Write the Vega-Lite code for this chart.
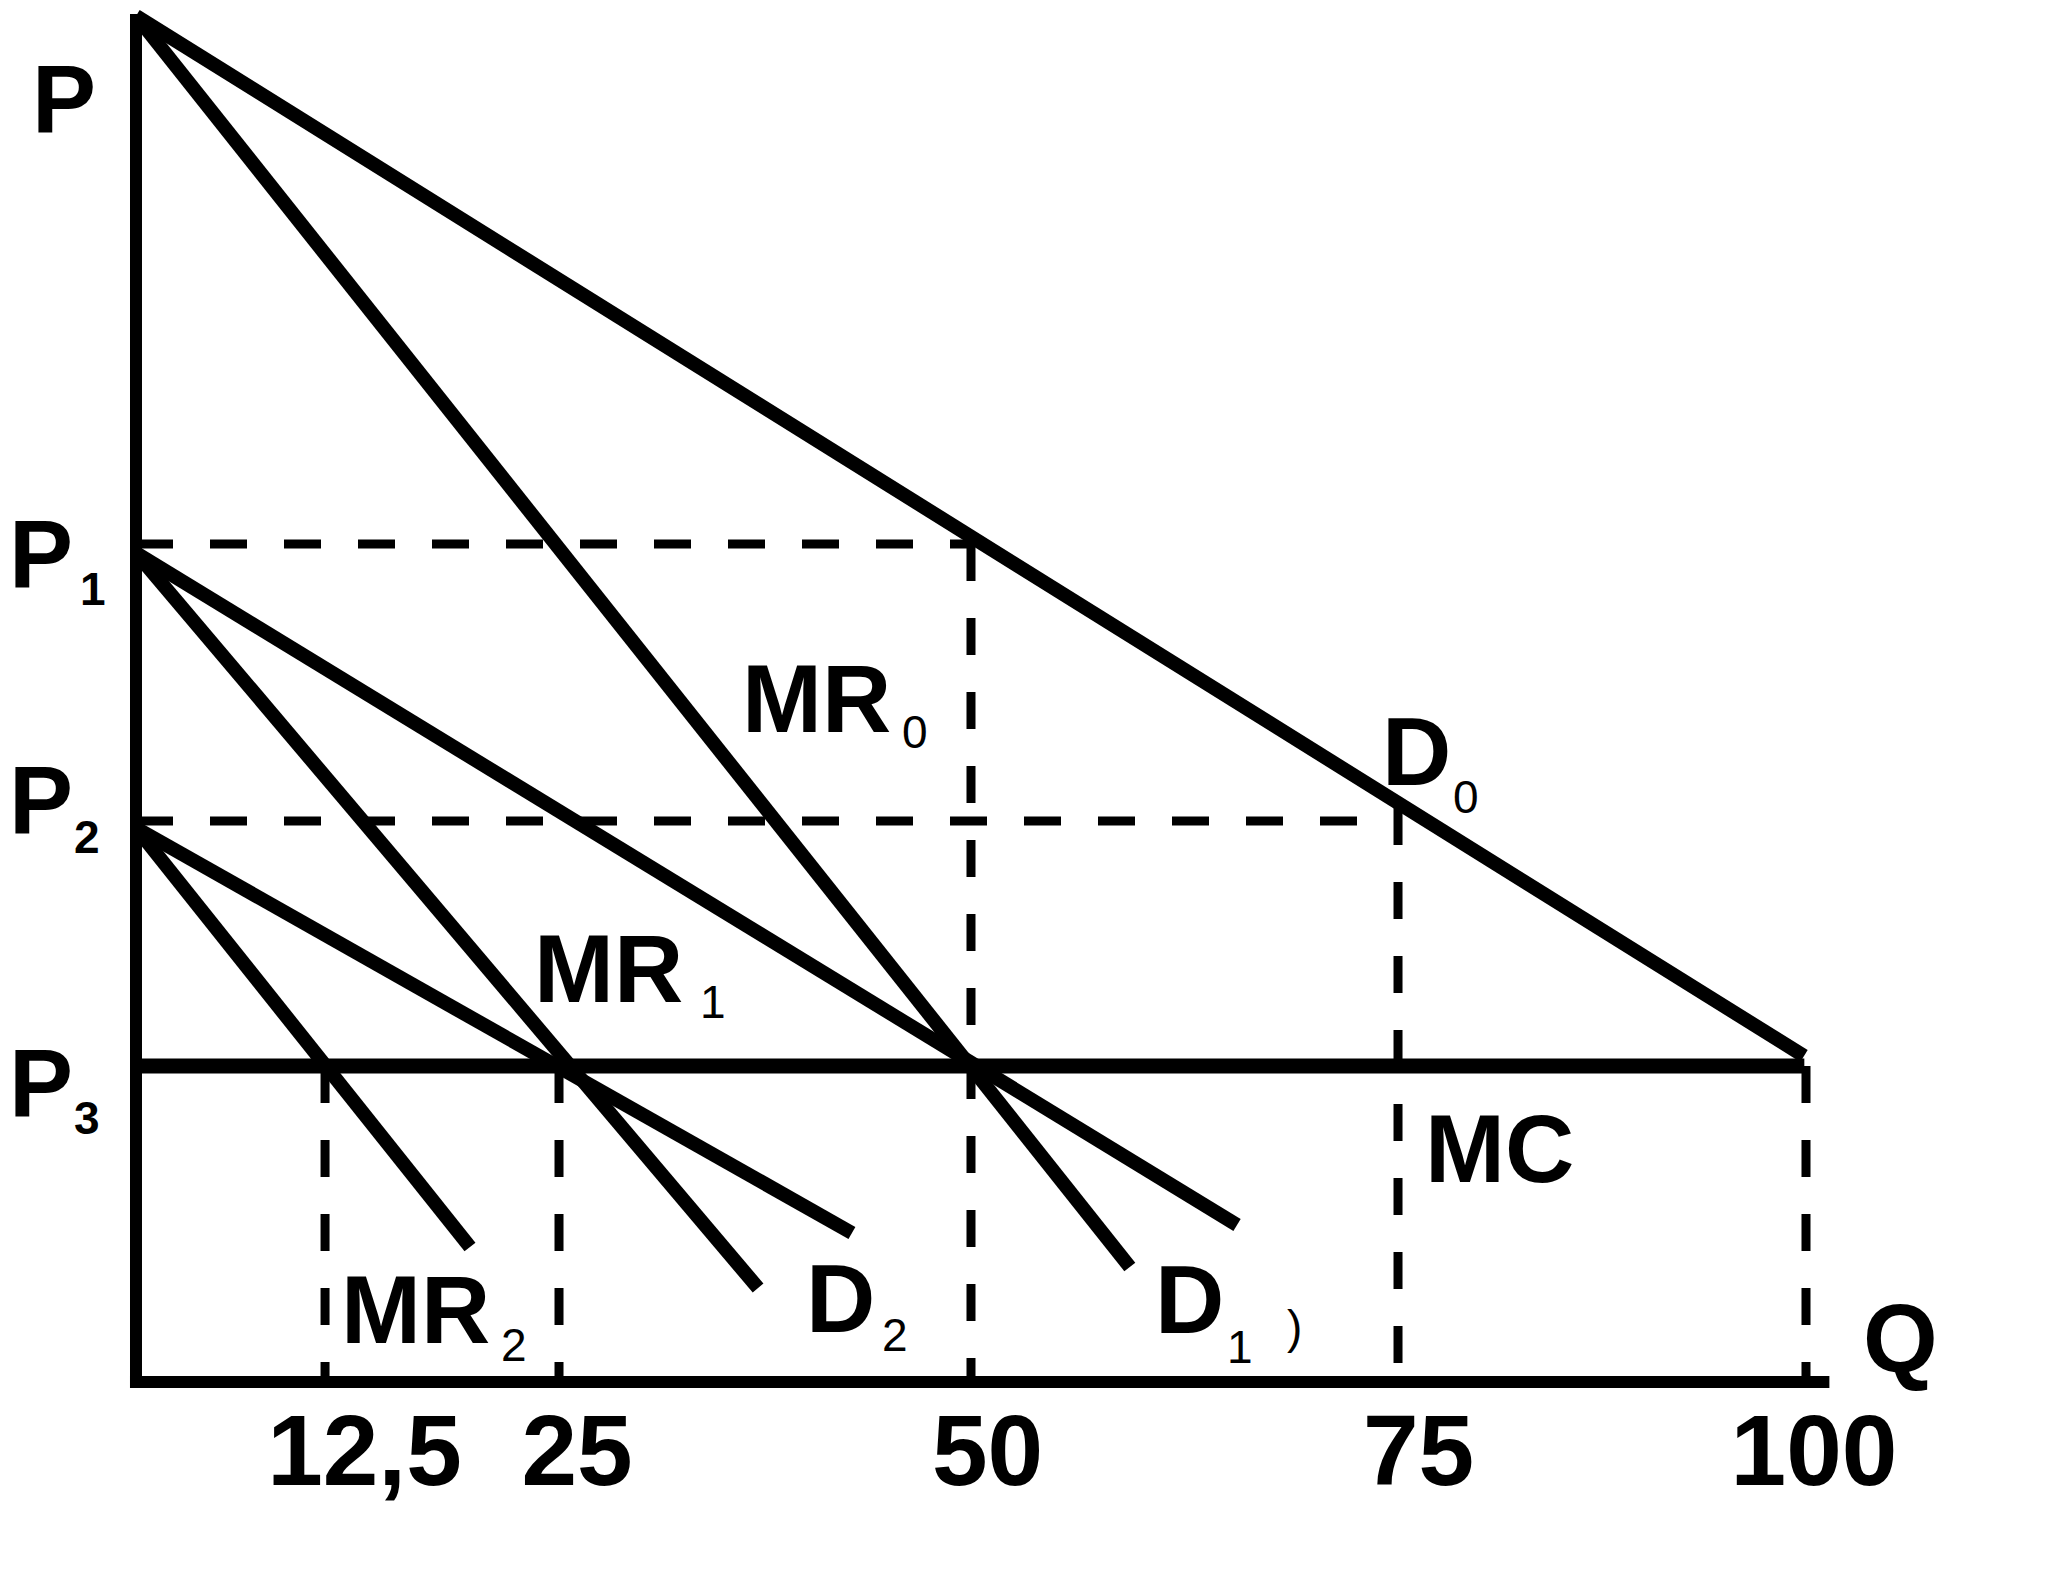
{
  "$schema": "https://vega.github.io/schema/vega-lite/v6.json",
  "width": 2050,
  "height": 1576,
  "autosize": {"type": "fit", "contains": "padding"},
  "padding": 0,
  "background": "white",
  "config": {"view": {"stroke": null}},
  "datasets": {
    "segments": [
      {"name": "P axis", "kind": "axis", "x": 0, "y": -0.6, "x2": 0, "y2": 136.8},
      {"name": "Q axis", "kind": "axis", "x": -0.36, "y": 0, "x2": 101.4, "y2": 0},
      {"name": "MC", "kind": "cost", "x": 0, "y": 31.6, "x2": 99.9, "y2": 31.6},
      {"name": "D0", "kind": "curve", "x": 0, "y": 136.6, "x2": 99.88, "y2": 32.6},
      {"name": "MR0", "kind": "curve", "x": 0, "y": 136.6, "x2": 59.51, "y2": 11.5},
      {"name": "D1", "kind": "curve", "x": 0, "y": 82.9, "x2": 65.93, "y2": 15.7},
      {"name": "MR1", "kind": "curve", "x": 0, "y": 82.9, "x2": 37.25, "y2": 9.4},
      {"name": "D2", "kind": "curve", "x": 0, "y": 55.4, "x2": 42.87, "y2": 14.9},
      {"name": "MR2", "kind": "curve", "x": 0, "y": 55.4, "x2": 20.0, "y2": 13.5},
      {"name": "P1 guide", "kind": "guide", "x": 0, "y": 83.8, "x2": 50.18, "y2": 83.8},
      {"name": "P2 guide", "kind": "guide", "x": 0, "y": 56.1, "x2": 75.57, "y2": 56.1},
      {"name": "Q 12,5 guide", "kind": "guide", "x": 11.32, "y": 31.6, "x2": 11.32, "y2": 0},
      {"name": "Q 25 guide", "kind": "guide", "x": 25.33, "y": 31.6, "x2": 25.33, "y2": 0},
      {"name": "Q 50 guide", "kind": "guide", "x": 50.0, "y": 83.8, "x2": 50.0, "y2": 0},
      {"name": "Q 75 guide", "kind": "guide", "x": 75.57, "y": 57.4, "x2": 75.57, "y2": 0},
      {"name": "Q 100 guide", "kind": "guide", "x": 100.0, "y": 31.6, "x2": 100.0, "y2": 0}
    ],
    "labels": [
      {"role": "main", "text": "P", "x": -6.228, "y": 125.0},
      {"role": "main", "text": "P", "x": -7.605, "y": 79.5},
      {"role": "main", "text": "P", "x": -7.605, "y": 54.9},
      {"role": "main", "text": "P", "x": -7.605, "y": 26.6},
      {"role": "main", "text": "MR", "x": 36.29, "y": 65.0},
      {"role": "main", "text": "MR", "x": 23.83, "y": 38.0},
      {"role": "main", "text": "MR", "x": 12.28, "y": 3.9},
      {"role": "main", "text": "D", "x": 74.61, "y": 59.7},
      {"role": "main", "text": "D", "x": 61.02, "y": 4.9},
      {"role": "main", "text": "D", "x": 40.12, "y": 5.0},
      {"role": "main", "text": "MC", "x": 77.19, "y": 20.0},
      {"role": "main", "text": "Q", "x": 103.41, "y": 1.0},
      {"role": "subbold", "text": "1", "x": -3.353, "y": 77.7},
      {"role": "subbold", "text": "2", "x": -3.713, "y": 52.9},
      {"role": "subbold", "text": "3", "x": -3.713, "y": 24.8},
      {"role": "sub", "text": "0", "x": 45.87, "y": 63.4},
      {"role": "sub", "text": "1", "x": 33.77, "y": 36.4},
      {"role": "sub", "text": "2", "x": 21.86, "y": 2.1},
      {"role": "sub", "text": "0", "x": 78.86, "y": 56.9},
      {"role": "sub", "text": "1", "x": 65.33, "y": 1.9},
      {"role": "sub", "text": ")", "x": 68.92, "y": 3.9},
      {"role": "sub", "text": "2", "x": 44.67, "y": 3.1},
      {"role": "tick", "text": "12,5", "x": 13.68, "y": -10.3},
      {"role": "tick", "text": "25", "x": 26.41, "y": -10.3},
      {"role": "tick", "text": "50", "x": 50.99, "y": -10.3},
      {"role": "tick", "text": "75", "x": 76.8, "y": -10.3},
      {"role": "tick", "text": "100", "x": 100.48, "y": -10.3}
    ]
  },
  "encoding": {
    "x": {"field": "x", "type": "quantitative", "scale": {"domain": [-8.1437, 114.611], "nice": false, "zero": false}, "axis": null},
    "y": {"field": "y", "type": "quantitative", "scale": {"domain": [-19.4, 138.2], "nice": false, "zero": false}, "axis": null}
  },
  "layer": [
    {
      "data": {"name": "segments"},
      "transform": [{"filter": "datum.kind === 'guide'"}],
      "mark": {"type": "rule", "color": "black", "strokeWidth": 9, "strokeDash": [37, 37], "strokeCap": "butt"},
      "encoding": {"x2": {"field": "x2"}, "y2": {"field": "y2"}}
    },
    {
      "data": {"name": "segments"},
      "transform": [{"filter": "datum.kind === 'axis'"}],
      "mark": {"type": "rule", "color": "black", "strokeWidth": 12, "strokeCap": "butt"},
      "encoding": {"x2": {"field": "x2"}, "y2": {"field": "y2"}}
    },
    {
      "data": {"name": "segments"},
      "transform": [{"filter": "datum.kind === 'cost'"}],
      "mark": {"type": "rule", "color": "black", "strokeWidth": 15, "strokeCap": "butt"},
      "encoding": {"x2": {"field": "x2"}, "y2": {"field": "y2"}}
    },
    {
      "data": {"name": "segments"},
      "transform": [{"filter": "datum.kind === 'curve'"}],
      "mark": {"type": "rule", "color": "black", "strokeWidth": 14, "strokeCap": "butt"},
      "encoding": {"x2": {"field": "x2"}, "y2": {"field": "y2"}}
    },
    {
      "data": {"name": "labels"},
      "transform": [{"filter": "datum.role === 'main'"}],
      "mark": {"type": "text", "color": "black", "font": "Liberation Sans", "fontWeight": "bold", "fontSize": 96, "align": "left", "baseline": "alphabetic"},
      "encoding": {"text": {"field": "text"}}
    },
    {
      "data": {"name": "labels"},
      "transform": [{"filter": "datum.role === 'subbold'"}],
      "mark": {"type": "text", "color": "black", "font": "Liberation Sans", "fontWeight": "bold", "fontSize": 46, "align": "left", "baseline": "alphabetic"},
      "encoding": {"text": {"field": "text"}}
    },
    {
      "data": {"name": "labels"},
      "transform": [{"filter": "datum.role === 'sub'"}],
      "mark": {"type": "text", "color": "black", "font": "Liberation Sans", "fontWeight": "normal", "fontSize": 46, "align": "left", "baseline": "alphabetic"},
      "encoding": {"text": {"field": "text"}}
    },
    {
      "data": {"name": "labels"},
      "transform": [{"filter": "datum.role === 'tick'"}],
      "mark": {"type": "text", "color": "black", "font": "Liberation Sans", "fontWeight": "bold", "fontSize": 100, "align": "center", "baseline": "alphabetic"},
      "encoding": {"text": {"field": "text"}}
    }
  ]
}
